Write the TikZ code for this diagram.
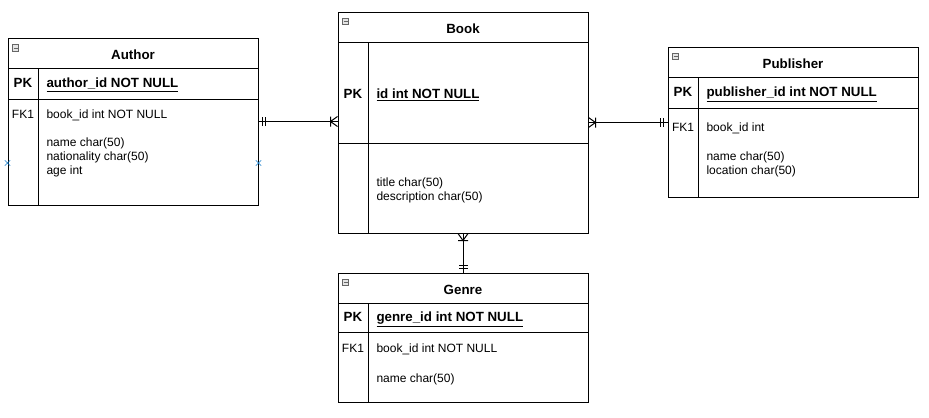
\documentclass[tikz,border=0pt]{standalone}
\usepackage{fontspec}
\setmainfont{Liberation Sans}
\usetikzlibrary{positioning, fit, shapes.misc}

\tikzset{
  headrow/.style={draw, outer sep=0pt, inner sep=0pt, minimum width=187.5pt, minimum height=22.5pt, font=\bfseries, text height=10pt, text depth=0pt},
  bodyrow/.style={draw, outer sep=0pt, inner sep=0pt, minimum width=187.5pt, minimum height=#1},
  bodyrow/.default=22.5pt,
  keylabel/.style={inner sep=0pt, text height=7pt, text depth=0.5pt},
  field/.style={anchor=west, inner sep=0pt, text height=7pt, text depth=0.5pt},
  minusbox/.style={draw=gray!80!black, fill=gray!20, line width=0.6pt, minimum size=5pt, inner sep=0pt,
    path picture={\draw[gray!80!black, line width=0.6pt] ([xshift=1pt]path picture bounding box.west) -- ([xshift=-1pt]path picture bounding box.east);}},
  handle/.style={cross out, draw=cyan!60!blue, minimum size=3.5pt, inner sep=0pt, line width=0.5pt},
  crowfoot/.pic={\draw (0,-5) -- (-7,0) -- (0,5) (-7,-5) -- (-7,5);},
  twobars/.pic={\draw (-4,-4.5) -- (-4,4.5) (-7,-4.5) -- (-7,4.5);}
}

\begin{document}
\begin{tikzpicture}[x=0.75pt, y=-0.75pt, line width=0.75pt, font=\fontsize{9}{10.5}\selectfont]
\useasboundingbox (0,0) rectangle (929,418);

% Define tables
\node[headrow] (authorhead) at (133,53) {Author};
\node[bodyrow=23.25pt, below=0pt of authorhead] (authorpk) {};
\node[bodyrow=79.5pt, below=0pt of authorpk] (authorbody) {};
\node[fit=(authorhead)(authorbody), inner sep=0pt] (author) {};

\node[headrow] (bookhead) at (463,27) {Book};
\node[bodyrow=75.75pt, below=0pt of bookhead] (bookpk) {};
\node[bodyrow=67.5pt, below=0pt of bookpk] (bookbody) {};
\node[fit=(bookhead)(bookbody), inner sep=0pt] (book) {};

\node[headrow] (publisherhead) at (793,62) {Publisher};
\node[bodyrow=23.25pt, below=0pt of publisherhead] (publisherpk) {};
\node[bodyrow=66.75pt, below=0pt of publisherpk] (publisherbody) {};
\node[fit=(publisherhead)(publisherbody), inner sep=0pt] (publisher) {};

\node[headrow] (genrehead) at (463,288) {Genre};
\node[bodyrow=21.75pt, below=0pt of genrehead] (genrepk) {};
\node[bodyrow=52.5pt, below=0pt of genrepk] (genrebody) {};
\node[fit=(genrehead)(genrebody), inner sep=0pt] (genre) {};

% key column dividers
\draw (authorpk.north west) ++(30,0) |- (authorbody.south west);
\draw (bookpk.north west) ++(30,0) |- (bookbody.south west);
\draw (publisherpk.north west) ++(30,0) |- (publisherbody.south west);
\draw (genrepk.north west) ++(30,0) |- (genrebody.south west);

% collapse icons
\path
(authorhead.north west) +(7.5,10) node[minusbox] (authormin) {}
(bookhead.north west) +(7.5,9.5) node[minusbox] (bookmin) {}
(publisherhead.north west) +(7.5,9.5) node[minusbox] (publishermin) {}
(genrehead.north west) +(7.5,9.5) node[minusbox] (genremin) {}
;

% fields
\path[every node/.style={field}]
(authorpk.west) +(15,0) node[keylabel, anchor=center, font=\bfseries] {PK}
+(38,0) node[font=\bfseries] {\underline{author\_id NOT NULL}}
(authorbody.north west) +(15,15) node[keylabel, anchor=center] {FK1}
+(38,15) node {book\_id int NOT NULL}
+(38,43) node {name char(50)}
+(38,57) node {nationality char(50)}
+(38,71) node {age int}
;
\path[every node/.style={field}]
(bookpk.west) +(15,1.5) node[keylabel, anchor=center, font=\bfseries] {PK}
+(38,1.5) node[font=\bfseries] {\underline{id int NOT NULL}}
(bookbody.north west) +(38,39) node {title char(50)}
+(38,53) node {description char(50)}
;
\path[every node/.style={field}]
(publisherpk.west) +(15,0) node[keylabel, anchor=center, font=\bfseries] {PK}
+(38,0) node[font=\bfseries] {\underline{publisher\_id int NOT NULL}}
(publisherbody.north west) +(15,19) node[keylabel, anchor=center] {FK1}
+(38,19) node {book\_id int}
+(38,48) node {name char(50)}
+(38,62) node {location char(50)}
;
\path[every node/.style={field}]
(genrepk.west) +(15,0) node[keylabel, anchor=center, font=\bfseries] {PK}
+(38,0) node[font=\bfseries] {\underline{genre\_id int NOT NULL}}
(genrebody.north west) +(15,16) node[keylabel, anchor=center] {FK1}
+(38,16) node {book\_id int NOT NULL}
+(38,46) node {name char(50)}
;

% selection handles
\path (author.west) +(0,41.5) node[handle] (hleft) {}
(author.east) +(0,41.5) node[handle] (hright) {};

% relations
\draw (author.east) -- (author.east -| book.west);
\path (author.east) pic[rotate=180] {twobars}
(author.east -| book.west) pic {crowfoot};

\draw (book.east) -- (book.east -| publisher.west);
\path (book.east) pic[rotate=180] {crowfoot}
(book.east -| publisher.west) pic {twobars};

\draw (book.south) -- (genre.north);
\path (book.south) pic[rotate=90] {crowfoot}
(genre.north) pic[rotate=-90] {twobars};

\end{tikzpicture}
\end{document}
